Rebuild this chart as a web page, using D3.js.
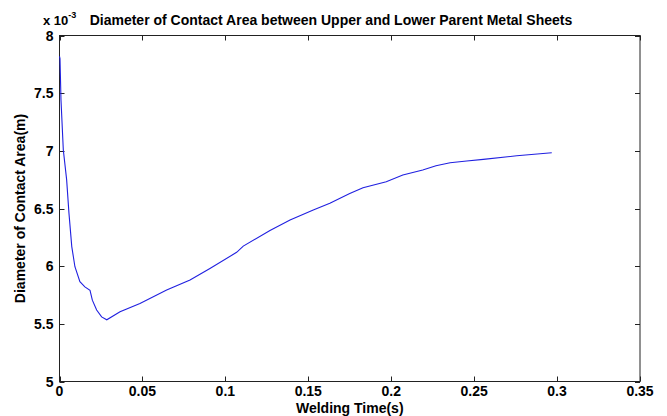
<!DOCTYPE html>
<html><head><meta charset="utf-8">
<script src="https://cdn.jsdelivr.net/npm/d3@7"></script>
<style>
html,body{margin:0;padding:0;background:#fff;}
text{font-family:"Liberation Sans",Arial,sans-serif;font-weight:bold;fill:#000;}
</style></head>
<body><svg id="c" width="667" height="416"></svg>
<script>
const titleText = "Diameter of Contact Area between Upper and Lower Parent Metal Sheets";
const xLabel = "Welding Time(s)";
const yLabel = "Diameter of Contact Area(m)";
const xTicks = [0, 0.05, 0.1, 0.15, 0.2, 0.25, 0.3, 0.35];
const yTicks = [5, 5.5, 6, 6.5, 7, 7.5, 8];
// time (s)
const time = [0, 0.0003, 0.0009, 0.0023, 0.0043, 0.0057, 0.0074, 0.0093, 0.0123, 0.0153, 0.0184, 0.0198, 0.0224, 0.0254, 0.0285, 0.0365, 0.0485, 0.0646, 0.0787, 0.0907, 0.1068, 0.1108, 0.1269, 0.139, 0.153, 0.163, 0.175, 0.183, 0.197, 0.207, 0.219, 0.227, 0.2355, 0.2455, 0.2555, 0.2757, 0.2968];
// diameter (x 1e-3 m)
const diam = [7.82, 7.80, 7.44, 7.007, 6.75, 6.46, 6.17, 5.995, 5.865, 5.82, 5.79, 5.705, 5.62, 5.56, 5.535, 5.605, 5.677, 5.793, 5.88, 5.98, 6.12, 6.174, 6.31, 6.40, 6.487, 6.545, 6.63, 6.68, 6.732, 6.79, 6.834, 6.871, 6.897, 6.912, 6.926, 6.957, 6.984];

const svg = d3.select("#c");
const L = 59.5, R = 640, T = 35.5, B = 381.5;
const x = d3.scaleLinear().domain([0, 0.35]).range([L, R]);
const y = d3.scaleLinear().domain([5, 8]).range([B, T]);
const tl = 5;
const fs = 14;

svg.append("rect").attr("x", L).attr("y", T).attr("width", R - L).attr("height", B - T)
  .attr("fill", "none").attr("stroke", "#222").attr("stroke-width", 1);

const g = svg.append("g").attr("stroke", "#222").attr("stroke-width", 1);
xTicks.forEach(v => {
  const px = Math.round(x(v)) + 0.5;
  g.append("line").attr("x1", px).attr("x2", px).attr("y1", B).attr("y2", B - tl);
  g.append("line").attr("x1", px).attr("x2", px).attr("y1", T).attr("y2", T + tl);
});
yTicks.forEach(v => {
  const py = Math.round(y(v)) + 0.5;
  g.append("line").attr("x1", L).attr("x2", L + tl).attr("y1", py).attr("y2", py);
  g.append("line").attr("x1", R).attr("x2", R - tl).attr("y1", py).attr("y2", py);
});

const fmt = v => String(+v.toFixed(2));
svg.append("g").selectAll("text").data(xTicks).join("text")
  .attr("x", d => x(d)).attr("y", B + 14).attr("text-anchor", "middle")
  .attr("font-size", fs).text(fmt);
svg.append("g").selectAll("text").data(yTicks).join("text")
  .attr("x", L - 6).attr("y", d => y(d) + 5).attr("text-anchor", "end")
  .attr("font-size", fs).text(fmt);

const ex = svg.append("text").attr("x", 43).attr("y", 25).attr("font-size", 13);
ex.append("tspan").text("x 10");
ex.append("tspan").attr("dy", -7).attr("font-size", 9).text("-3");

svg.append("text").attr("x", 331).attr("y", 25).attr("text-anchor", "middle")
  .attr("font-size", fs).text(titleText);
svg.append("text").attr("x", x(0.175)).attr("y", 413).attr("text-anchor", "middle")
  .attr("font-size", fs).text(xLabel);
svg.append("text").attr("transform", `translate(25,${(T + B) / 2}) rotate(-90)`)
  .attr("text-anchor", "middle").attr("font-size", fs).text(yLabel);

const pts = time.map((t, i) => [t, diam[i]]);
svg.append("path").datum(pts)
  .attr("d", d3.line().x(d => x(d[0])).y(d => y(d[1])))
  .attr("fill", "none").attr("stroke", "#2020e0").attr("stroke-width", 1.1);
</script></body></html>
